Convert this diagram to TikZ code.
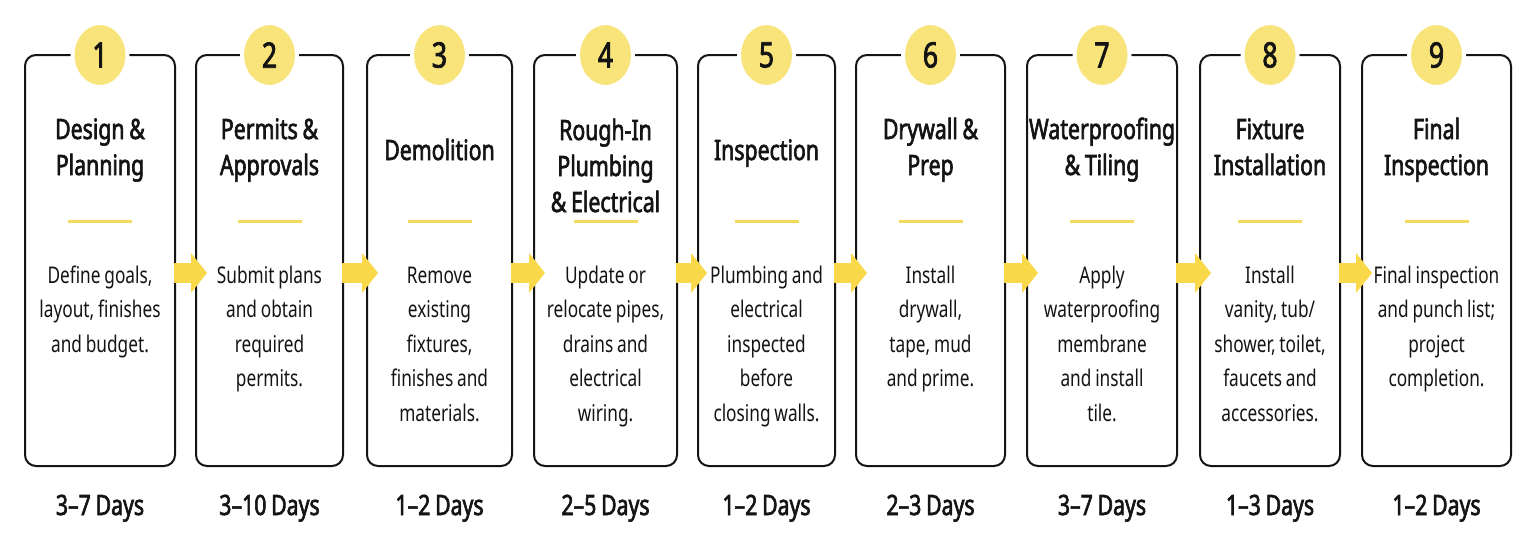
\documentclass[tikz,border=0pt]{standalone}
\usepackage{fontspec}
\setmainfont{Noto Sans}[FakeStretch=0.75, WordSpace=0.85]
\newfontfamily\heavy{Noto Sans}[FakeStretch=0.76, WordSpace=0.85, FakeBold=2.2]
\usetikzlibrary{shapes.geometric,arrows.meta}
\definecolor{circc}{HTML}{F9E47C}
\definecolor{arrowc}{HTML}{F9D94A}
\definecolor{divc}{HTML}{F3DA5C}
\definecolor{ink}{HTML}{141414}
\newcommand\stagebox[7]{%
  \pgfmathsetmacro\cx{(#2+#3)/2}%
  \pgfmathsetmacro\bw{#3-#2}%
  \node[stepbox, minimum width=\bw pt] (b#1) at (\cx,260.5) {};
  \node[numcirc] (n#1) at (\cx,55) {#1};
  \node[titletext] (t#1) at (\cx,#4) {#5};
  \draw[divider] (\cx-32,221) -- (\cx+32,221);
  \node[bodytext] (d#1) at (\cx,283) {#6};
  \node[daystext] (y#1) at (\cx,515) {#7};
}
\begin{document}
\begin{tikzpicture}[x=1pt,y=-1pt,
  stepbox/.style={draw=ink, line width=2pt, rounded corners=11pt, fill=white, minimum height=411pt, inner sep=0pt},
  numcirc/.style={ellipse, fill=circc, draw=white, line width=4pt, minimum width=55pt, minimum height=64pt, inner sep=0pt, text=ink, font=\fontsize{35}{35}\heavy},
  titletext/.style={anchor=base, text width=170pt, align=flush center, inner sep=0pt, text=ink, font=\fontsize{28}{36}\heavy},
  bodytext/.style={anchor=base, text width=170pt, align=flush center, inner sep=0pt, text=ink, font=\fontsize{23}{34.5}\selectfont},
  daystext/.style={anchor=base, inner sep=0pt, text=ink, font=\fontsize{28}{30}\heavy},
  divider/.style={draw=divc, line width=3pt},
  flow/.style={draw=arrowc, line width=20pt, -{Triangle[length=16pt,width=39pt]}}
]
\fill[white] (0,0) rectangle (1536,549);
\useasboundingbox (0,0) rectangle (1536,549);
\stagebox{1}{25}{175}{139}{Design \&\\Planning}{Define goals,\\layout, finishes\\and budget.}{3–7 Days}
\stagebox{2}{196}{343}{139}{Permits \&\\Approvals}{Submit plans\\and obtain\\required\\permits.}{3–10 Days}
\stagebox{3}{367}{512}{160}{Demolition}{Remove\\existing\\fixtures,\\finishes and\\materials.}{1–2 Days}
\stagebox{4}{534}{677}{140}{Rough-In\\Plumbing\\\& Electrical}{Update or\\relocate pipes,\\drains and\\electrical\\wiring.}{2–5 Days}
\stagebox{5}{698}{835}{160}{Inspection}{Plumbing and\\electrical\\inspected\\before\\closing walls.}{1–2 Days}
\stagebox{6}{856}{1005}{139}{Drywall \&\\Prep}{Install\\drywall,\\tape, mud\\and prime.}{2–3 Days}
\stagebox{7}{1027}{1177}{139}{Waterproofing\\\& Tiling}{Apply\\waterproofing\\membrane\\and install\\tile.}{3–7 Days}
\stagebox{8}{1200}{1340}{139}{Fixture\\Installation}{Install\\vanity, tub/\\shower, toilet,\\faucets and\\accessories.}{1–3 Days}
\stagebox{9}{1362}{1511}{139}{Final\\Inspection}{Final inspection\\and punch list;\\project\\completion.}{1–2 Days}
\draw[flow] ([xshift=-2pt,yshift=-12.5pt]b1.east) -- ([xshift=12pt,yshift=-12.5pt]b2.west);
\draw[flow] ([xshift=-2pt,yshift=-12.5pt]b2.east) -- ([xshift=12pt,yshift=-12.5pt]b3.west);
\draw[flow] ([xshift=-2pt,yshift=-12.5pt]b3.east) -- ([xshift=12pt,yshift=-12.5pt]b4.west);
\draw[flow] ([xshift=-2pt,yshift=-12.5pt]b4.east) -- ([xshift=10pt,yshift=-12.5pt]b5.west);
\draw[flow] ([xshift=-2pt,yshift=-12.5pt]b5.east) -- ([xshift=12pt,yshift=-12.5pt]b6.west);
\draw[flow] ([xshift=-2pt,yshift=-12.5pt]b6.east) -- ([xshift=12pt,yshift=-12.5pt]b7.west);
\draw[flow] ([xshift=-2pt,yshift=-12.5pt]b7.east) -- ([xshift=12pt,yshift=-12.5pt]b8.west);
\draw[flow] ([xshift=-2pt,yshift=-12.5pt]b8.east) -- ([xshift=11pt,yshift=-12.5pt]b9.west);
\end{tikzpicture}
\end{document}
